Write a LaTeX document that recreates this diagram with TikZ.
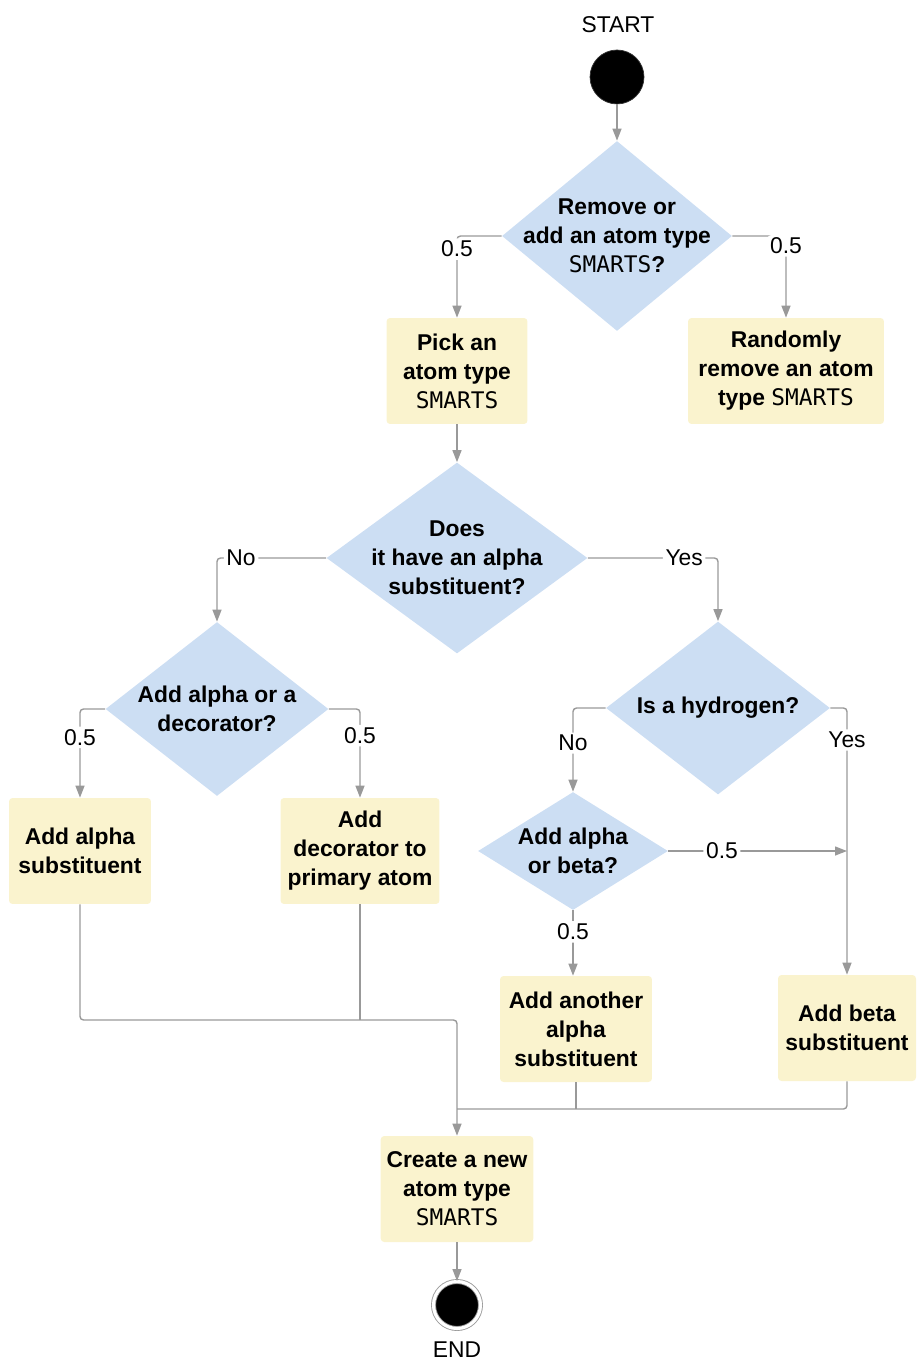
\documentclass[tikz,border=0pt]{standalone}
\usepackage{fontspec}
\setmainfont{Liberation Sans}
\newfontfamily\smfont{DejaVu Sans Mono}
\usetikzlibrary{shapes.geometric,arrows.meta}
\definecolor{flowblue}{HTML}{CCDEF3}
\definecolor{flowyellow}{HTML}{FAF3CE}
\definecolor{flowgray}{HTML}{999999}
\newcommand{\smarts}{{\smfont\mdseries SMARTS}}

\begin{document}
\begin{tikzpicture}[x=0.02cm,y=-0.02cm,>={Triangle[length=2.4mm,width=1.8mm]},
	font=\fontsize{13}{16.5}\selectfont,
	dia/.style={diamond,fill=flowblue,inner sep=0pt},
	dtext/.style={align=center,font=\fontsize{13}{16.5}\selectfont\bfseries},
	box/.style={rectangle,fill=flowyellow,rounded corners=2pt,align=center,minimum height=2.12cm,font=\fontsize{13}{16.5}\selectfont\bfseries},
	startpt/.style={circle,fill=black,draw=black!80,minimum size=1.08cm,inner sep=0pt},
	endpt/.style={circle,fill=black,draw=flowgray,double=white,double distance=1.8pt,line width=0.5pt,minimum size=0.94cm,inner sep=0pt},
	link/.style={draw=flowgray,line width=0.8pt,rounded corners=2pt},
	lbl/.style={fill=white,inner sep=1.5pt}]
				\useasboundingbox (0,0) rectangle (916,1361);
				\node (starttxt) at (618,25) {START};
				\node[startpt] (start) at (617,77) {};
				\node[dia,minimum width=4.6cm,minimum height=3.8cm,label={[dtext]center:{Remove or\\add an atom type\\\smarts?}}] (d1) at (617,236) {};
				\node[box,minimum width=2.82cm] (pick) at (457,371) {Pick an\\atom type\\\smarts};
				\node[box,minimum width=3.92cm] (remove) at (786,371) {Randomly\\remove an atom\\type \smarts};
				\node[dia,minimum width=5.22cm,minimum height=3.82cm,label={[dtext]center:{Does\\it have an alpha\\substituent?}}] (d2) at (457,558) {};
				\node[dia,minimum width=4.46cm,minimum height=3.48cm,label={[dtext]center:{Add alpha or a\\decorator?}}] (d3) at (217,709) {};
				\node[dia,minimum width=4.48cm,minimum height=3.46cm,label={[dtext]center:{Is a hydrogen?}}] (d4) at (718,708) {};
				\node[dia,minimum width=3.8cm,minimum height=2.36cm,label={[dtext]center:{Add alpha\\or beta?}}] (d5) at (573,851) {};
				\node[box,minimum width=2.84cm] (alpha) at (80,851) {Add alpha\\substituent};
				\node[box,minimum width=3.18cm] (deco) at (360,851) {Add\\decorator to\\primary atom};
				\node[box,minimum width=3.04cm] (another) at (576,1029) {Add another\\alpha\\substituent};
				\node[box,minimum width=2.76cm] (beta) at (847,1028) {Add beta\\substituent};
				\node[box,minimum width=3.04cm] (create) at (457,1189) {Create a new\\atom type\\\smarts};
				\node[endpt] (end) at (457,1305) {};
				\node (endtxt) at (457,1350) {END};
				\draw[link,->] (start) -- (d1);
				\draw[link,->] (d1.west) -| node[lbl,pos=0.58]{0.5} (pick.north);
				\draw[link,->] (d1.east) -| node[lbl,pos=0.56]{0.5} (remove.north);
				\draw[link,->] (pick) -- (d2);
				\draw[link,->] (d2.west) -| node[lbl,pos=0.39]{No} (d3.north);
				\draw[link,->] (d2.east) -| node[lbl,pos=0.37]{Yes} (d4.north);
				\draw[link,->] (d3.west) -| node[lbl,pos=0.66]{0.5} (alpha.north);
				\draw[link,->] (d3.east) -| node[lbl,pos=0.65]{0.5} (deco.north);
				\draw[link,->] (d4.west) -| node[lbl,pos=0.71]{No} (d5.north);
				\draw[link,->] (d4.east) -| node[lbl,pos=0.56]{Yes} (beta.north);
				\coordinate (join) at (beta.north |- d5.east);
				\draw[link,->] (d5.east) -- node[lbl,pos=0.3]{0.5} (join);
				\draw[link,->] (d5.south) -- node[lbl,pos=0.33]{0.5} (d5.south |- another.north);
				\coordinate (m1) at (457,1020);
				\coordinate (m2) at (457,1109);
				\draw[link,->] (alpha.south) |- (m1) -- (create.north);
				\draw[link] (deco.south) -- (deco.south |- m1);
				\draw[link] (another.south) -- (another.south |- m2);
				\draw[link] (beta.south) |- (m2);
				\draw[link,->] (create) -- (end);
			\end{tikzpicture}
\end{document}
